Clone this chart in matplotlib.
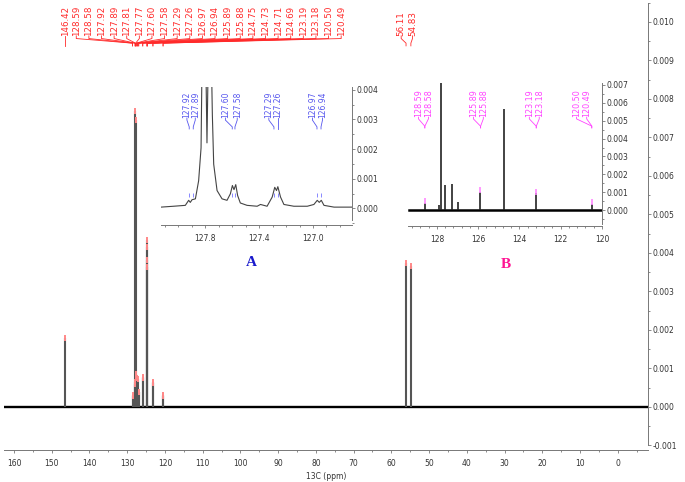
import matplotlib
matplotlib.use('Agg')
import numpy as np
import matplotlib.pyplot as plt
from matplotlib.ticker import MultipleLocator, FixedLocator, FormatStrFormatter

# main 13C spectrum: picked peaks (ppm) and heights
peak_ppm = [146.42, 128.59, 128.58, 127.92, 127.89, 127.81, 127.77, 127.60, 127.58,
            127.29, 127.26, 126.97, 126.94, 125.89, 125.88, 124.75, 124.73, 124.71,
            124.69, 123.19, 123.18, 120.50, 120.49, 56.11, 54.83]
peak_int = [0.00180, 0.00030, 0.00028, 0.00060, 0.00065, 0.00770, 0.00745, 0.00085, 0.00080,
            0.00075, 0.00072, 0.00040, 0.00038, 0.00078, 0.00075, 0.00434, 0.00416, 0.00382,
            0.00364, 0.00066, 0.00063, 0.00031, 0.00029, 0.00374, 0.00366]

# inset A: expanded trace 128.1 - 126.7 ppm
a_ppm = [128.131, 128.036, 127.949, 127.924, 127.912, 127.899, 127.874, 127.850, 127.832,
         127.822, 127.805, 127.788, 127.770, 127.755, 127.748, 127.738, 127.713, 127.676,
         127.639, 127.614, 127.599, 127.587, 127.574, 127.560, 127.540, 127.490, 127.415,
         127.390, 127.341, 127.303, 127.284, 127.271, 127.261, 127.241, 127.216, 127.142,
         127.042, 126.993, 126.968, 126.953, 126.938, 126.918, 126.843, 126.707]
a_int = [0.00004, 0.00007, 0.00010, 0.00027, 0.00020, 0.00029, 0.00032, 0.00093, 0.00204,
         0.00600, 0.00770, 0.00221, 0.00760, 0.00500, 0.00316, 0.00149, 0.00060, 0.00032,
         0.00027, 0.00049, 0.00077, 0.00063, 0.00080, 0.00043, 0.00018, 0.00010, 0.00007,
         0.00013, 0.00007, 0.00038, 0.00071, 0.00060, 0.00073, 0.00038, 0.00013, 0.00007,
         0.00007, 0.00013, 0.00027, 0.00020, 0.00027, 0.00010, 0.00004, 0.00004]
a_labels = [127.92, 127.89, 127.60, 127.58, 127.29, 127.26, 126.97, 126.94]
a_label_x = [127.937, 127.875, 127.651, 127.563, 127.328, 127.260, 127.004, 126.929]

# inset B: 129.4 - 120 ppm
b_ppm = [128.59, 127.92, 127.81, 127.60, 127.29, 126.97, 125.89, 124.73, 123.19, 120.50]
b_int = [0.00040, 0.00030, 0.00710, 0.00140, 0.00145, 0.00045, 0.00100, 0.00564, 0.00093, 0.00034]
b_labels = [128.59, 128.58, 125.89, 125.88, 123.19, 123.18, 120.50, 120.49]
b_label_x = [128.89, 128.41, 126.23, 125.75, 123.52, 123.04, 121.23, 120.74]

RED = '#ff2a2a'
BLUE = '#5555ee'
MAG = '#ff44ff'


def style_axis(ax, fs=5.5):
    ax.set_facecolor('none')
    for s in ('top', 'left'):
        ax.spines[s].set_visible(False)
    ax.spines['right'].set_color('#777777')
    ax.spines['bottom'].set_color('#777777')
    ax.spines['right'].set_linewidth(0.7)
    ax.spines['bottom'].set_linewidth(0.7)
    ax.yaxis.tick_right()
    ax.tick_params(axis='both', which='both', colors='#777777', labelcolor='#333333',
                   labelsize=fs, width=0.6)
    ax.tick_params(axis='x', which='major', direction='out', length=2.5, pad=4)
    ax.tick_params(axis='x', which='minor', direction='out', length=1.5)
    ax.tick_params(axis='y', which='major', direction='out', length=2.5, pad=1)
    ax.tick_params(axis='y', which='minor', direction='out', length=1.5)
    ax.yaxis.set_major_formatter(FormatStrFormatter('%.3f'))


def connect(ax, lx, px, y0, y1, y2, y3, color, txt, fs):
    ax.text(lx, y0, txt, rotation=90, ha='center', va='bottom', fontsize=fs,
            color=color, clip_on=False)
    ax.plot([lx, lx, px, px], [y0, y1, y2, y3], color=color, lw=0.6, clip_on=False)


fig = plt.figure(figsize=(6.85, 4.82), dpi=100)

# ---- main spectrum
ax = fig.add_axes([0.00584, 0.0670, 0.9401, 0.9273])
style_axis(ax)
ax.set_xlim(162.65, -8.0)
ax.set_ylim(-0.00111, 0.0105)
ax.spines['right'].set_bounds(-0.001, 0.0105)
ax.xaxis.set_major_locator(MultipleLocator(10))
ax.xaxis.set_minor_locator(MultipleLocator(5))
ax.xaxis.set_major_formatter(FormatStrFormatter('%d'))
ax.yaxis.set_major_locator(MultipleLocator(0.001))
ax.yaxis.set_minor_locator(MultipleLocator(0.0005))
ax.set_xlabel('13C (ppm)', fontsize=5.5, color='#333333', labelpad=3)

ax.plot([162.65, -8.0], [0, 0], color='black', lw=1.7)
ax.vlines(peak_ppm, 0, peak_int, color='#555555', lw=1.5)
ax.plot(peak_ppm, peak_int, ls='none', marker='|', ms=4, mew=1.4, color='#ff8888')

# top peak labels
connect(ax, peak_ppm[0], peak_ppm[0], 0.00964, 0.00955, 0.00945, 0.00938, RED,
        '%.2f' % peak_ppm[0], 6.3)
cluster = peak_ppm[1:23]
for lx, p in zip(np.linspace(143.5, 73.3, len(cluster)), cluster):
    connect(ax, lx, p, 0.00964, 0.00957, 0.00945, 0.00938, RED, '%.2f' % p, 6.3)
for lx, p in zip([57.4, 54.4], peak_ppm[23:]):
    connect(ax, lx, p, 0.00964, 0.00957, 0.00945, 0.00938, RED, '%.2f' % p, 6.3)

# ---- inset A
axa = fig.add_axes([0.2350, 0.5328, 0.2788, 0.2869])
style_axis(axa)
axa.set_xlim(128.13, 126.71)
axa.set_ylim(-0.00057, 0.0041)
axa.spines['right'].set_bounds(-0.0004, 0.0041)
axa.xaxis.set_major_locator(FixedLocator([127.8, 127.4, 127.0]))
axa.xaxis.set_minor_locator(MultipleLocator(0.1))
axa.xaxis.set_major_formatter(FormatStrFormatter('%.1f'))
axa.yaxis.set_major_locator(MultipleLocator(0.001))
axa.yaxis.set_minor_locator(MultipleLocator(0.0005))
axa.plot(a_ppm, a_int, color='#444444', lw=0.8)
for lx, p in zip(a_label_x, a_labels):
    connect(axa, lx, p, 0.00305, 0.00298, 0.00275, 0.00268, BLUE, '%.2f' % p, 5.5)
    axa.plot([p], [0.00045], ls='none', marker='|', ms=3, mew=0.7, color='#8888ff')

# ---- inset B
axb = fig.add_axes([0.5956, 0.5309, 0.2832, 0.3002])
style_axis(axb)
axb.set_xlim(129.4, 120.0)
axb.set_ylim(-0.0009, 0.0072)
axb.spines['right'].set_bounds(-0.0008, 0.0071)
axb.xaxis.set_major_locator(MultipleLocator(2))
axb.xaxis.set_minor_locator(MultipleLocator(0.4))
axb.xaxis.set_major_formatter(FormatStrFormatter('%d'))
axb.yaxis.set_major_locator(MultipleLocator(0.001))
axb.yaxis.set_minor_locator(MultipleLocator(0.0005))
axb.plot([129.35, 120.05], [0, 0], color='black', lw=1.8)
axb.vlines(b_ppm, 0, b_int, color='#222222', lw=1.2)
for i in (0, 6, 8, 9):
    axb.plot([b_ppm[i]], [b_int[i] + 0.0001], ls='none', marker='|', ms=4, mew=1.2,
             color='#ff88ff')
for lx, p in zip(b_label_x, b_labels):
    connect(axb, lx, p, 0.0052, 0.0051, 0.0047, 0.0046, MAG, '%.2f' % p, 5.8)

fig.text(251.7 / 685, 1 - 263 / 482, 'A', color='#1a1acc', fontsize=11, fontweight='bold',
         family='Liberation Serif', ha='center', va='center')
fig.text(506 / 685, 1 - 265 / 482, 'B', color='#ff1493', fontsize=11, fontweight='bold',
         family='Liberation Serif', ha='center', va='center')

fig.savefig('out.png', dpi=100)
